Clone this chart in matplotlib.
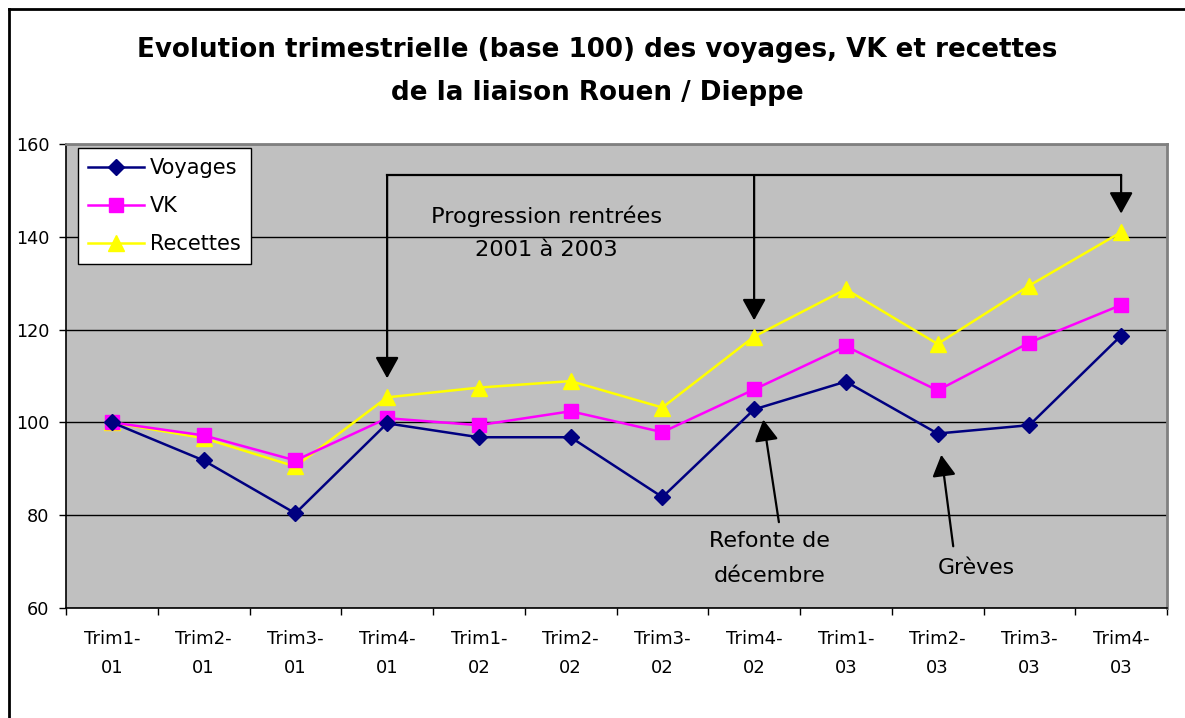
import matplotlib
matplotlib.use("Agg")
import matplotlib.pyplot as plt
from matplotlib.lines import Line2D

plt.rcParams['font.family'] = ['DejaVu Sans']

categories = ["Trim1-\n01", "Trim2-\n01", "Trim3-\n01", "Trim4-\n01",
              "Trim1-\n02", "Trim2-\n02", "Trim3-\n02", "Trim4-\n02",
              "Trim1-\n03", "Trim2-\n03", "Trim3-\n03", "Trim4-\n03"]
voyages = [100, 91.8, 80.4, 99.8, 96.8, 96.8, 83.9, 102.8, 108.8, 97.6, 99.4, 118.7]
vk = [100, 97.2, 91.8, 100.9, 99.4, 102.4, 97.9, 107.1, 116.4, 106.9, 117.2, 125.3]
recettes = [100, 96.6, 90.5, 105.4, 107.5, 108.9, 103.2, 118.5, 128.7, 116.9, 129.5, 141.0]
yticks = [60, 80, 100, 120, 140, 160]

W, H = 1185, 718
fig = plt.figure(figsize=(W / 100, H / 100), dpi=100)
fig.patch.set_facecolor('white')
ax = fig.add_axes([66 / W, 1 - 608 / H, (1167 - 66) / W, (608 - 144) / H])
ax.set_facecolor('#C0C0C0')

x = list(range(len(categories)))
ax.plot(x, voyages, color='#000080', lw=1.8, marker='D', ms=8, mec='#000080', mfc='#000080', label='Voyages', zorder=5)
ax.plot(x, vk, color='#FF00FF', lw=1.8, marker='s', ms=9.5, mec='#FF00FF', mfc='#FF00FF', label='VK', zorder=4)
ax.plot(x, recettes, color='#FFFF00', lw=1.8, marker='^', ms=11, mec='#FFFF00', mfc='#FFFF00', label='Recettes', zorder=3)

ax.set_xlim(-0.5, len(categories) - 0.5)
ax.set_ylim(60, 160)
ax.set_yticks(yticks)
ax.set_yticklabels([str(v) for v in yticks], fontsize=12.7)
ax.yaxis.grid(True, color='black', lw=1.0)
ax.set_axisbelow(True)
ax.tick_params(axis='y', direction='out', length=5, width=1, pad=7)

ax.set_xticks(x)
ax.set_xticklabels(categories, fontsize=13, linespacing=1.75)
ax.set_xticks([i - 0.5 for i in range(len(categories) + 1)], minor=True)
ax.tick_params(axis='x', which='major', length=0, pad=16)
ax.tick_params(axis='x', which='minor', direction='out', length=5, width=1)

for s in ['left', 'bottom']:
    ax.spines[s].set_color('black')
    ax.spines[s].set_linewidth(1.2)
for s in ['top', 'right']:
    ax.spines[s].set_color('#808080')
    ax.spines[s].set_linewidth(2)

leg = ax.legend(loc='upper left', bbox_to_anchor=(12 / 1101, 1 - 4 / 464), fontsize=15,
                frameon=True, fancybox=False, edgecolor='black', facecolor='white',
                framealpha=1, borderpad=0.5, labelspacing=0.85, handlelength=2.65,
                handletextpad=0.3, borderaxespad=0)
leg.get_frame().set_linewidth(1.0)

arrow_style = dict(arrowstyle='-|>,head_length=0.65,head_width=0.36', color='black',
                   lw=1.6, mutation_scale=20, shrinkA=0, shrinkB=0)

# Bracket arrows
yb = 153.3
ax.plot([3, 11], [yb, yb], color='black', lw=1.6, zorder=6)
for xa, ytip in [(3, 109.5), (7, 122.0), (11, 145.0)]:
    ax.annotate('', xy=(xa, ytip), xytext=(xa, yb), zorder=6, arrowprops=arrow_style)

ax.text(4.74, 144.5, 'Progression rentrées', ha='center', va='center', fontsize=16.2)
ax.text(4.74, 137.2, '2001 à 2003', ha='center', va='center', fontsize=16.2)

ax.annotate('', xy=(7.10, 100.6), xytext=(7.27, 78.5), arrowprops=arrow_style)
ax.text(7.17, 74.4, 'Refonte de', ha='center', va='center', fontsize=16)
ax.text(7.17, 66.9, 'décembre', ha='center', va='center', fontsize=16)

ax.annotate('', xy=(9.04, 93.0), xytext=(9.17, 73.3), arrowprops=arrow_style)
ax.text(9.42, 68.6, 'Grèves', ha='center', va='center', fontsize=15.8)

fig.text(597 / W, 1 - 50 / H, 'Evolution trimestrielle (base 100) des voyages, VK et recettes',
         ha='center', va='center', fontsize=18.8, fontweight='bold')
fig.text(597 / W, 1 - 93 / H, 'de la liaison Rouen / Dieppe',
         ha='center', va='center', fontsize=18.8, fontweight='bold')

# Outer frame (cropped right/bottom)
fig.add_artist(Line2D([9 / W, 9 / W], [0, 1 - 9 / H], color='black', lw=2, transform=fig.transFigure))
fig.add_artist(Line2D([9 / W, 1], [1 - 9 / H, 1 - 9 / H], color='black', lw=2, transform=fig.transFigure))

fig.savefig('out.png', dpi=100)
